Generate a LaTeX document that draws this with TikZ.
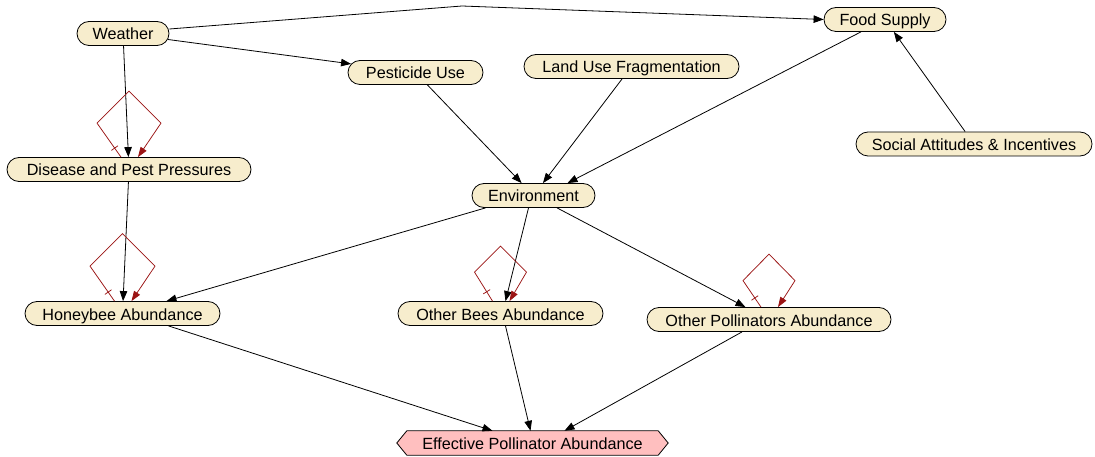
\documentclass[tikz,border=0pt]{standalone}
\usepackage{fontspec}
\setmainfont{Liberation Sans}
\usetikzlibrary{arrows.meta,shapes.misc,decorations.markings,backgrounds}
\definecolor{nodefill}{RGB}{247,237,205}
\definecolor{efffill}{RGB}{255,191,191}
\definecolor{loopred}{RGB}{155,20,20}
\tikzset{
  var/.style={rounded rectangle, draw=black, line width=0.8pt, fill=nodefill,
    minimum height=24pt, inner sep=0pt, text height=13pt, text depth=0pt,
    font=\fontsize{16.2pt}{19pt}\selectfont},
  arr/.style={-{Triangle[length=10pt,width=7.5pt]}, line width=0.8pt, draw=black},
  loopline/.style={draw=loopred, line width=0.75pt,
    -{Triangle[length=10pt,width=7pt]},
    decoration={markings, mark=at position 11pt with {\draw[-, loopred, line width=0.75pt] (0,-4pt) -- (0,4pt);}},
    postaction={decorate}}
}
\newcommand{\selfloop}[4]{%
  \draw[loopline] ([xshift=-8pt]#1.north) -- ([xshift=-#2pt,yshift=#3pt]#1.north)
    -- ([yshift=#4pt]#1.north) -- ([xshift=#2pt,yshift=#3pt]#1.north)
    -- ([xshift=9pt]#1.north);}
\begin{document}
\begin{tikzpicture}[x=1pt,y=-1pt]
\useasboundingbox (0,0) rectangle (1095,457);
% nodes
\node[var, minimum width=92pt]  (w)   at (123,33.5)  {Weather};
\node[var, minimum width=122pt] (fs)  at (885,19.5)  {Food Supply};
\node[var, minimum width=135pt] (pu)  at (415.5,72.5) {Pesticide Use};
\node[var, minimum width=215pt] (lu)  at (631.5,66.5) {Land Use Fragmentation};
\node[var, minimum width=236pt] (sa)  at (974,144)   {Social Attitudes \& Incentives};
\node[var, minimum width=244pt] (dp)  at (129,169.5) {Disease and Pest Pressures};
\node[var, minimum width=123pt] (env) at (533.5,195.5) {Environment};
\node[var, minimum width=195pt] (hb)  at (122.5,313.5) {Honeybee Abundance};
\node[var, minimum width=205pt] (ob)  at (500.5,313.5) {Other Bees Abundance};
\node[var, minimum width=244pt] (op)  at (769,319.5) {Other Pollinators Abundance};
\node[rectangle, minimum width=271pt, minimum height=24pt, inner sep=0pt,
      text height=13pt, text depth=0pt, font=\fontsize{16.2pt}{19pt}\selectfont]
      (eff) at (532.5,443) {Effective Pollinator Abundance};
\begin{scope}[on background layer]
  \fill[white] (0,0) rectangle (1095,457);
  \draw[line width=0.8pt, fill=efffill] (eff.west) -- ([xshift=10pt]eff.north west)
    -- ([xshift=-10pt]eff.north east) -- (eff.east) -- ([xshift=-10pt]eff.south east)
    -- ([xshift=10pt]eff.south west) -- cycle;
\end{scope}
\coordinate (wp) at (462,6);
% edges
\draw[arr] ([yshift=4.5pt]w.east) -- (wp) -- (fs.west);
\draw[arr] (w) -- (pu);
\draw[arr] (w) -- (dp);
\draw[arr] (pu) -- (env);
\draw[arr] (lu) -- (env);
\draw[arr] (fs) -- ([xshift=34pt]env.north);
\draw[arr] (sa) -- (fs);
\draw[arr] (dp) -- (hb);
\draw[arr] ([xshift=-48pt]env.south) -- ([xshift=44pt]hb.north);
\draw[arr] ([xshift=-5pt]env.south) -- ([xshift=5pt]ob.north);
\draw[arr] (env) -- (op);
\draw[arr] ([xshift=46pt]hb.south) -- ([xshift=-40pt]eff.north);
\draw[arr] ([xshift=5pt]ob.south) -- ([xshift=-2pt]eff.north);
\draw[arr] ([xshift=-27pt]op.south) -- ([xshift=32pt]eff.north);
% self loops
\selfloop{dp}{32}{34}{66}
\selfloop{hb}{32.5}{35}{67.5}
\selfloop{ob}{26}{29}{55}
\selfloop{op}{26}{26.5}{53}
\end{tikzpicture}
\end{document}
